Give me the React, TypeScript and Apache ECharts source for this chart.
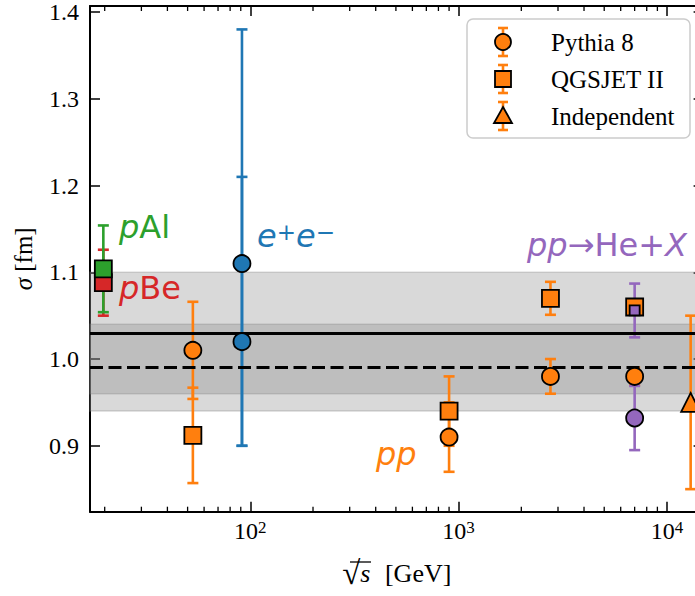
import React, { useEffect, useRef } from 'react';
import * as echarts from 'echarts';

// ---------- data ----------
const pythiaSqrtS = [53, 900, 2760, 7000];
const pythiaSigma = [1.01, 0.91, 0.98, 0.98];
const pythiaErr = [0.056, 0.04, 0.02, 0.01];

const qgsjetSqrtS = [53, 900, 2760, 7000];
const qgsjetSigma = [0.912, 0.94, 1.07, 1.06];
const qgsjetErr = [0.055, 0.04, 0.019, 0.006];

const indepSqrtS = [13000];
const indepSigma = [0.95];
const indepErr = [0.1];

const eeSqrtS = [91.2, 91.2];
const eeSigma = [1.11, 1.02];
const eeErrUp = [0.27, 0.19];
const eeErrDown = [0.21, 0.12];

const pBeSqrtS = [19.7];
const pBeSigma = [1.088];
const pBeErr = [0.038];

const pAlSqrtS = [19.7];
const pAlSigma = [1.104];
const pAlErr = [0.05];

const heCircleSqrtS = [7000];
const heCircleSigma = [0.932];
const heCircleErr = [0.037];

const heSquareSqrtS = [7000];
const heSquareSigma = [1.056];
const heSquareErr = [0.031];

const bandOuter = [0.94, 1.1];
const bandInner = [0.96, 1.04];
const solidLineValue = 1.03;
const dashedLineValue = 0.99;

const yTicks = [0.9, 1.0, 1.1, 1.2, 1.3, 1.4];
const xMinorTicks = [20, 30, 40, 50, 60, 70, 80, 90, 200, 300, 400, 500, 600, 700, 800, 900, 2000, 3000, 4000, 5000, 6000, 7000, 8000, 9000];
const legendNames = ['Pythia 8', 'QGSJET II', 'Independent'];

const X_MIN = 17;
const X_MAX = 15000;
const Y_MIN = 0.824;
const Y_MAX = 1.407;

// ---------- styles ----------
const ORANGE = '#ff7f0e';
const BLUE = '#1f77b4';
const GREEN = '#2ca02c';
const RED = '#d62728';
const PURPLE = '#9467bd';
const SERIF = '"Liberation Serif", "Times New Roman", serif';
const SANS = '"DejaVu Sans", sans-serif';
const BAR_W = 2.6;
const EDGE_W = 1.8;

const toBars = (xs: number[], ys: number[], down: number[], up: number[]) =>
  xs.map((x, i) => [x, ys[i] - down[i], ys[i] + up[i]]);
const toPoints = (xs: number[], ys: number[]) => xs.map((x, i) => [x, ys[i]]);

const errorBarSeries = (name: string, data: number[][], color: string) => ({
  type: 'custom',
  name,
  z: 2,
  clip: false,
  encode: { x: 0, y: [1, 2] },
  data,
  renderItem: (params: any, api: any) => {
    const x = api.value(0);
    const top = api.coord([x, api.value(2)]);
    const bot = api.coord([x, api.value(1)]);
    const cap = 5.5;
    const style = { stroke: color, lineWidth: BAR_W, fill: null };
    return {
      type: 'group',
      children: [
        { type: 'line', shape: { x1: top[0], y1: top[1], x2: bot[0], y2: bot[1] }, style },
        { type: 'line', shape: { x1: top[0] - cap, y1: top[1], x2: top[0] + cap, y2: top[1] }, style },
        { type: 'line', shape: { x1: bot[0] - cap, y1: bot[1], x2: bot[0] + cap, y2: bot[1] }, style },
      ],
    };
  },
});

const markerSeries = (name: string, data: number[][], symbol: string, size: number, color: string) => ({
  type: 'scatter',
  name,
  z: 4,
  symbol,
  symbolSize: size,
  data,
  itemStyle: { color, borderColor: '#000', borderWidth: EDGE_W, opacity: 1 },
  emphasis: { disabled: true },
});

const tickStyle = { color: '#000', width: 1.5 };
const axisLineStyle = { color: '#000', width: 2 };

const superscriptLabel = (v: number) => {
  const e = Math.log10(v);
  if (Math.abs(e - Math.round(e)) > 1e-6) return '';
  return `{b|10}{e|${Math.round(e)}}`;
};

function buildOption() {
  const legendRows = legendNames.map((name, i) => {
    const cx = 503;
    const cy = 42 + i * 37;
    const bar = { stroke: ORANGE, lineWidth: BAR_W };
    const mk = { fill: ORANGE, stroke: '#000', lineWidth: EDGE_W };
    let marker: any;
    if (i === 0) marker = { type: 'circle', shape: { cx, cy, r: 8 }, style: mk, z: 101 };
    else if (i === 1) marker = { type: 'rect', shape: { x: cx - 8, y: cy - 8, width: 16, height: 16 }, style: mk, z: 101 };
    else marker = { type: 'polygon', shape: { points: [[cx, cy - 9], [cx + 9, cy + 7], [cx - 9, cy + 7]] }, style: mk, z: 101 };
    return [
      { type: 'line', shape: { x1: cx, y1: cy - 14, x2: cx, y2: cy + 14 }, style: bar, z: 100 },
      { type: 'line', shape: { x1: cx - 5, y1: cy - 14, x2: cx + 5, y2: cy - 14 }, style: bar, z: 100 },
      { type: 'line', shape: { x1: cx - 5, y1: cy + 14, x2: cx + 5, y2: cy + 14 }, style: bar, z: 100 },
      marker,
      {
        type: 'text', z: 101,
        style: { text: name, x: 551, y: cy, fill: '#000', fontSize: 25, fontFamily: SERIF, verticalAlign: 'middle', align: 'left' },
      },
    ];
  }).flat();

  const FS = 32;
  const annot = (text: string, x: number, y: number, color: string) => ({
    type: 'text', z: 50,
    style: {
      text, x, y, fill: color, fontSize: FS, fontFamily: SANS, verticalAlign: 'middle', align: 'left',
      rich: {
        i: { fontStyle: 'italic', fontSize: FS, fontFamily: SANS, fill: color, color },
        n: { fontSize: FS, fontFamily: SANS, fill: color, color },
        s: { fontSize: 23, fontFamily: SANS, fill: color, color, verticalAlign: 'top' },
      },
    },
  });

  return {
    animation: false,
    backgroundColor: '#ffffff',
    grid: { left: 90, top: 6, width: 613.6, height: 505.7, outerBoundsMode: 'none', containLabel: false },
    xAxis: [
      {
        type: 'log', logBase: 10, min: X_MIN, max: X_MAX, position: 'bottom',
        axisLine: { show: true, onZero: false, lineStyle: axisLineStyle },
        axisTick: { show: true, inside: true, length: 10, lineStyle: tickStyle },
        minorTick: { show: false },
        splitLine: { show: false },
        axisLabel: {
          show: true, margin: 7, formatter: superscriptLabel, color: '#000',
          showMinLabel: false, showMaxLabel: false,
          rich: {
            b: { fontSize: 24, fontFamily: SERIF, color: '#000' },
            e: { fontSize: 17, fontFamily: SERIF, color: '#000', verticalAlign: 'top' },
          },
        },
        name: '{r|√}{s|s} [GeV]',
        nameLocation: 'middle',
        nameGap: 45,
        nameTextStyle: {
          fontSize: 26, fontFamily: SERIF, color: '#000',
          rich: {
            r: { fontSize: 33, fontFamily: SERIF, color: '#000' },
            s: { fontSize: 26, fontFamily: SERIF, fontStyle: 'italic', color: '#000', padding: [0, 8, 0, 0] },
          },
        },
      },
      {
        type: 'log', logBase: 10, min: X_MIN, max: X_MAX, position: 'top',
        axisLine: { show: true, onZero: false, lineStyle: axisLineStyle },
        axisTick: { show: true, inside: true, length: 10, lineStyle: tickStyle },
        axisLabel: { show: false },
        splitLine: { show: false },
      },
    ],
    yAxis: [
      {
        type: 'value', min: Y_MIN, max: Y_MAX, position: 'left',
        axisLine: { show: true, onZero: false, lineStyle: axisLineStyle },
        axisTick: { show: true, inside: true, length: 10, lineStyle: tickStyle, customValues: yTicks },
        splitLine: { show: false },
        axisLabel: {
          show: true, margin: 11, customValues: yTicks, color: '#000',
          fontSize: 24, fontFamily: SERIF,
          formatter: (v: number) => v.toFixed(1),
        },
        name: '{i|σ} [fm]',
        nameLocation: 'middle',
        nameRotate: 90,
        nameGap: 54,
        nameTextStyle: {
          fontSize: 25, fontFamily: SERIF, color: '#000',
          rich: { i: { fontSize: 25, fontFamily: SERIF, fontStyle: 'italic', color: '#000' } },
        },
      },
      {
        type: 'value', min: Y_MIN, max: Y_MAX, position: 'right',
        axisLine: { show: true, onZero: false, lineStyle: axisLineStyle },
        axisTick: { show: true, inside: true, length: 10, lineStyle: tickStyle, customValues: yTicks },
        axisLabel: { show: false },
        splitLine: { show: false },
      },
    ],
    series: [
      {
        type: 'scatter',
        name: 'reference',
        data: [],
        z: 1,
        markArea: {
          silent: true,
          z: 1,
          itemStyle: { color: 'rgba(128,128,128,0.3)', borderColor: 'rgba(128,128,128,0.3)', borderWidth: 1.5 },
          label: { show: false },
          data: [
            [{ yAxis: bandOuter[0] }, { yAxis: bandOuter[1] }],
            [{ yAxis: bandInner[0] }, { yAxis: bandInner[1] }],
          ],
        },
        markLine: {
          silent: true,
          z: 3,
          symbol: 'none',
          label: { show: false },
          data: [
            { yAxis: solidLineValue, lineStyle: { color: '#000', width: 3, type: 'solid' } },
            { yAxis: dashedLineValue, lineStyle: { color: '#000', width: 3, type: [13, 5.5] } },
          ],
        },
      },
      {
        type: 'custom',
        name: 'minorTicks',
        z: 5,
        clip: false,
        encode: { x: 0, y: 1 },
        data: xMinorTicks.map((v) => [v, Y_MIN]),
        renderItem: (params: any, api: any) => {
          const cs = params.coordSys;
          const x = api.coord([api.value(0), Y_MIN])[0];
          const style = { stroke: '#000', lineWidth: 1.3 };
          return {
            type: 'group',
            children: [
              { type: 'line', shape: { x1: x, y1: cs.y + cs.height, x2: x, y2: cs.y + cs.height - 5 }, style },
              { type: 'line', shape: { x1: x, y1: cs.y, x2: x, y2: cs.y + 5 }, style },
            ],
          };
        },
      },
      errorBarSeries('pBe err', toBars(pBeSqrtS, pBeSigma, pBeErr, pBeErr), RED),
      errorBarSeries('pAl err', toBars(pAlSqrtS, pAlSigma, pAlErr, pAlErr), GREEN),
      errorBarSeries('ee err', toBars(eeSqrtS, eeSigma, eeErrDown, eeErrUp), BLUE),
      errorBarSeries('Pythia err', toBars(pythiaSqrtS, pythiaSigma, pythiaErr, pythiaErr), ORANGE),
      errorBarSeries('QGSJET err', toBars(qgsjetSqrtS, qgsjetSigma, qgsjetErr, qgsjetErr), ORANGE),
      errorBarSeries('Indep err', toBars(indepSqrtS, indepSigma, indepErr, indepErr), ORANGE),
      errorBarSeries('He circle err', toBars(heCircleSqrtS, heCircleSigma, heCircleErr, heCircleErr), PURPLE),
      errorBarSeries('He square err', toBars(heSquareSqrtS, heSquareSigma, heSquareErr, heSquareErr), PURPLE),
      markerSeries('pBe', toPoints(pBeSqrtS, pBeSigma), 'rect', 17, RED),
      markerSeries('pAl', toPoints(pAlSqrtS, pAlSigma), 'rect', 17, GREEN),
      markerSeries('e+e-', toPoints(eeSqrtS, eeSigma), 'circle', 17, BLUE),
      markerSeries('Pythia 8', toPoints(pythiaSqrtS, pythiaSigma), 'circle', 17, ORANGE),
      markerSeries('QGSJET II', toPoints(qgsjetSqrtS, qgsjetSigma), 'rect', 17, ORANGE),
      markerSeries('Independent', toPoints(indepSqrtS, indepSigma), 'triangle', 19, ORANGE),
      markerSeries('He circle', toPoints(heCircleSqrtS, heCircleSigma), 'circle', 17, PURPLE),
      markerSeries('He square', toPoints(heSquareSqrtS, heSquareSigma), 'rect', 10, PURPLE),
    ],
    graphic: [
      {
        type: 'rect', z: 99,
        shape: { x: 467, y: 19, width: 223, height: 119, r: 6 },
        style: { fill: 'rgba(255,255,255,0.8)', stroke: '#cccccc', lineWidth: 1.5 },
      },
      ...legendRows,
      annot('{i|p}{n|Al}', 119, 227, GREEN),
      annot('{i|p}{n|Be}', 119, 288, RED),
      annot('{i|e}{s|+}{i|e}{s|−}', 257, 236, BLUE),
      annot('{i|pp}{n|→He+}{i|X}', 527, 245, PURPLE),
      annot('{i|pp}', 376, 454, ORANGE),
      {
        type: 'line', z: 60,
        shape: { x1: 350, y1: 562, x2: 371, y2: 562 },
        style: { stroke: '#000', lineWidth: 1.3 },
      },
    ],
  };
}

export default function App() {
  const ref = useRef<HTMLDivElement>(null);
  useEffect(() => {
    const chart = echarts.init(ref.current!, null, { renderer: 'svg' });
    chart.setOption(buildOption() as any);
    return () => chart.dispose();
  }, []);
  return (
    <div
      ref={ref}
      style={{ position: 'fixed', left: 0, top: 0, width: 695, height: 596, background: '#fff' }}
    />
  );
}
